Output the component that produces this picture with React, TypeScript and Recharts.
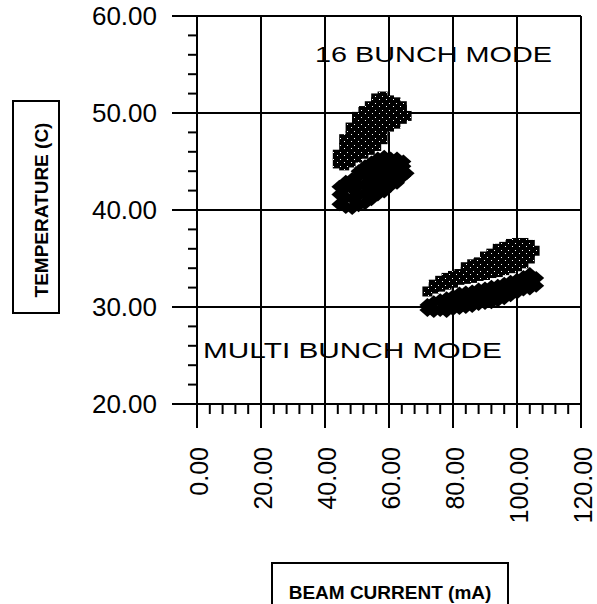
import { ScatterChart, Scatter, XAxis, YAxis, ReferenceLine } from 'recharts';

// beam current (mA), temperature (C)
const lowCurrentUpper: [number, number][] = [
  [44, 44.8], [44, 45.7],
  [46, 44.6], [46, 45.5], [46, 46.4], [46, 47.3],
  [48, 44.9], [48, 45.8], [48, 46.7], [48, 47.6], [48, 48.5],
  [50, 45.4], [50, 46.3], [50, 47.2], [50, 48.1], [50, 49.0], [50, 49.6],
  [52, 45.8], [52, 46.7], [52, 47.6], [52, 48.5], [52, 49.4], [52, 50.2],
  [54, 46.2], [54, 47.1], [54, 48.0], [54, 48.9], [54, 49.8], [54, 50.7],
  [56, 46.6], [56, 47.5], [56, 48.4], [56, 49.3], [56, 50.2], [56, 51.1], [56, 51.5],
  [58, 47.3], [58, 48.2], [58, 49.1], [58, 50.0], [58, 50.9], [58, 51.7],
  [60, 48.6], [60, 49.5], [60, 50.4], [60, 51.3],
  [62, 48.9], [62, 49.8], [62, 50.7], [62, 51.1],
  [64, 49.4], [64, 50.3], [64, 50.7],
  [65.5, 49.7],
];

const lowCurrentLower: [number, number][] = [
  [44.5, 40.6], [44.5, 41.6], [44.5, 42.4],
  [46.5, 40.3], [46.5, 41.3], [46.5, 42.3], [46.5, 42.9],
  [48.5, 40.2], [48.5, 41.2], [48.5, 42.2], [48.5, 43.2],
  [50.5, 40.5], [50.5, 41.5], [50.5, 42.5], [50.5, 43.5], [50.5, 44.0],
  [52.5, 40.7], [52.5, 41.7], [52.5, 42.7], [52.5, 43.7], [52.5, 44.5],
  [54.5, 41.1], [54.5, 42.1], [54.5, 43.1], [54.5, 44.1], [54.5, 44.9],
  [56.5, 41.6], [56.5, 42.6], [56.5, 43.6], [56.5, 44.6], [56.5, 45.3],
  [58.5, 41.9], [58.5, 42.9], [58.5, 43.9], [58.5, 44.9], [58.5, 45.5],
  [60.5, 42.5], [60.5, 43.5], [60.5, 44.5], [60.5, 45.3],
  [62.5, 42.8], [62.5, 43.8], [62.5, 44.8], [62.5, 45.3],
  [64.5, 43.5], [64.5, 44.5], [64.5, 45.0],
  [65.5, 43.8],
];

const highCurrentUpper: [number, number][] = [
  [72, 31.6],
  [74, 31.9], [74, 32.3],
  [76, 32.1], [76, 32.7],
  [78, 32.3], [78, 33.0],
  [80, 32.5], [80, 33.2],
  [82, 32.8], [82, 33.4],
  [84, 32.9], [84, 33.6], [84, 34.1],
  [86, 33.0], [86, 33.7], [86, 34.4],
  [88, 33.2], [88, 33.9], [88, 34.6],
  [90, 33.3], [90, 34.0], [90, 34.7], [90, 35.2],
  [92, 33.5], [92, 34.2], [92, 34.9], [92, 35.5],
  [94, 33.6], [94, 34.3], [94, 35.0], [94, 35.7], [94, 36.0],
  [96, 33.8], [96, 34.5], [96, 35.2], [96, 35.9], [96, 36.2],
  [98, 34.0], [98, 34.7], [98, 35.4], [98, 36.1], [98, 36.5],
  [100, 34.2], [100, 34.9], [100, 35.6], [100, 36.3], [100, 36.6],
  [102, 34.5], [102, 35.2], [102, 35.9], [102, 36.6],
  [104, 35.0], [104, 35.7], [104, 36.4],
  [105.5, 35.8],
];

const highCurrentLower: [number, number][] = [
  [72, 29.7], [72, 30.2],
  [74, 29.6], [74, 30.5],
  [76, 29.7], [76, 30.7],
  [78, 29.6], [78, 30.3], [78, 30.9],
  [80, 29.8], [80, 30.5], [80, 31.1],
  [82, 29.9], [82, 30.7], [82, 31.4],
  [84, 30.0], [84, 30.8], [84, 31.5],
  [86, 30.1], [86, 30.9], [86, 31.6],
  [88, 30.3], [88, 31.1], [88, 31.8],
  [90, 30.4], [90, 31.2], [90, 31.9],
  [92, 30.5], [92, 31.3], [92, 32.1],
  [94, 30.7], [94, 31.5], [94, 32.2],
  [96, 30.9], [96, 31.7], [96, 32.4],
  [98, 31.2], [98, 31.9], [98, 32.6],
  [100, 31.5], [100, 32.2], [100, 32.8],
  [102, 31.8], [102, 32.5], [102, 33.1],
  [104, 31.9], [104, 32.7], [104, 33.4],
  [106, 32.2], [106, 33.0],
];

const xTicks = [0, 4, 8, 12, 16, 20, 24, 28, 32, 36, 40, 44, 48, 52, 56, 60, 64, 68, 72, 76, 80, 84, 88, 92, 96, 100, 104, 108, 112, 116, 120];
const yTicks = [20, 22, 24, 26, 28, 30, 32, 34, 36, 38, 40, 42, 44, 46, 48, 50, 52, 54, 56, 58, 60];
const xGrid = [20, 40, 60, 80, 100, 120];
const yGrid = [30, 40, 50, 60];

const FONT = '"Liberation Sans", Arial, sans-serif';

const toPoints = (rows: [number, number][]) => rows.map(([x, y]) => ({ x, y }));

const XTick = ({ x, y, payload }: any) => {
  const v = payload.value;
  const major = v % 20 === 0;
  const tx = x + 11;
  const ty = y + 43;
  return (
    <g>
      <line x1={x} x2={x} y1={y} y2={y + (major ? 24 : 10)} stroke="#000" strokeWidth={2} />
      {major && (
        <text x={tx} y={ty} transform={`rotate(-90 ${tx} ${ty})`} textAnchor="end" fontSize={25} fontFamily={FONT} fill="#000">
          {v.toFixed(2)}
        </text>
      )}
    </g>
  );
};

const YTick = ({ x, y, payload }: any) => {
  const v = payload.value;
  const major = v % 10 === 0;
  return (
    <g>
      <line x1={x - (major ? 25 : 9)} x2={x} y1={y} y2={y} stroke="#000" strokeWidth={2} />
      {major && (
        <text x={x - 40} y={y} dy="0.35em" textAnchor="end" fontSize={26} fontFamily={FONT} fill="#000">
          {v.toFixed(2)}
        </text>
      )}
    </g>
  );
};

const Diamond = ({ cx, cy }: any) => (
  <polygon points={`${cx},${cy - 7} ${cx + 8},${cy} ${cx},${cy + 7} ${cx - 8},${cy}`} fill="#000" />
);

const Stipple = ({ cx, cy }: any) => (
  <rect x={cx - 5} y={cy - 5} width={10} height={10} fill="url(#stipple)" />
);

export default function App() {
  return (
    <div style={{ position: 'absolute', left: 0, top: 0, width: 597, height: 604, background: '#fff' }}>
      <ScatterChart width={597} height={604} margin={{ top: 16, right: 16, left: 0, bottom: 0 }}>
        <XAxis
          type="number"
          dataKey="x"
          domain={[0, 120]}
          ticks={xTicks}
          interval={0}
          height={200}
          tickSize={0}
          tickMargin={0}
          tick={<XTick />}
          axisLine={{ stroke: '#000', strokeWidth: 2 }}
          tickLine={false}
        />
        <YAxis
          type="number"
          dataKey="y"
          domain={[20, 60]}
          ticks={yTicks}
          interval={0}
          width={197}
          tickSize={0}
          tickMargin={0}
          tick={<YTick />}
          axisLine={{ stroke: '#000', strokeWidth: 2 }}
          tickLine={false}
        />
        {xGrid.map((v) => (
          <ReferenceLine key={`gx${v}`} x={v} stroke="#000" strokeWidth={2} />
        ))}
        {yGrid.map((v) => (
          <ReferenceLine key={`gy${v}`} y={v} stroke="#000" strokeWidth={2} />
        ))}
        <Scatter data={toPoints(lowCurrentLower)} shape={<Diamond />} isAnimationActive={false} />
        <Scatter data={toPoints(highCurrentLower)} shape={<Diamond />} isAnimationActive={false} />
        <Scatter data={toPoints(lowCurrentUpper)} shape={<Stipple />} isAnimationActive={false} />
        <Scatter data={toPoints(highCurrentUpper)} shape={<Stipple />} isAnimationActive={false} />
      </ScatterChart>
      <svg width={597} height={604} style={{ position: 'absolute', left: 0, top: 0, pointerEvents: 'none' }}>
        <defs>
          <pattern id="stipple" patternUnits="userSpaceOnUse" width={7} height={7}>
            <rect width={7} height={7} fill="#000" />
            <rect x={1} y={1} width={1} height={1} fill="#fff" />
            <rect x={4} y={5} width={1} height={1} fill="#fff" />
          </pattern>
        </defs>
        <text x={315} y={62} fontSize={22} textLength={237} lengthAdjust="spacingAndGlyphs" fontFamily={FONT} fill="#000">
          16 BUNCH MODE
        </text>
        <text x={203} y={358} fontSize={22} textLength={299} lengthAdjust="spacingAndGlyphs" fontFamily={FONT} fill="#000">
          MULTI BUNCH MODE
        </text>
        <rect x={13} y={101} width={46} height={212} fill="none" stroke="#000" strokeWidth={2} />
        <text x={48} y={210} transform="rotate(-90 48 210)" textAnchor="middle" fontSize={19} fontWeight="bold" fontFamily={FONT} fill="#000">
          TEMPERATURE (C)
        </text>
        <rect x={272} y={563} width={236} height={60} fill="none" stroke="#000" strokeWidth={2} />
        <text x={390} y={599} textAnchor="middle" fontSize={19} fontWeight="bold" fontFamily={FONT} fill="#000">
          BEAM CURRENT (mA)
        </text>
      </svg>
    </div>
  );
}
